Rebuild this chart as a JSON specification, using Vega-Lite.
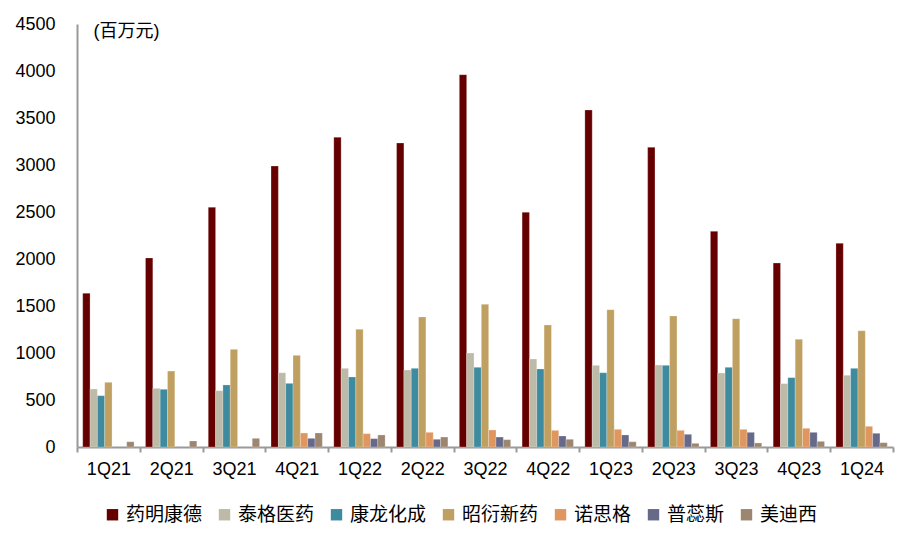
{
  "$schema": "https://vega.github.io/schema/vega-lite/v6.json",
  "width": 816,
  "height": 423,
  "autosize": {"type": "none"},
  "padding": {"left": 77, "top": 24, "right": 22, "bottom": 95},
  "background": "white",
  "data": {
    "values": [
      {"q": "1Q21", "co": "药明康德", "v": 1635}, {"q": "1Q21", "co": "泰格医药", "v": 617}, {"q": "1Q21", "co": "康龙化成", "v": 546}, {"q": "1Q21", "co": "昭衍新药", "v": 688}, {"q": "1Q21", "co": "美迪西", "v": 56},
      {"q": "2Q21", "co": "药明康德", "v": 2011}, {"q": "2Q21", "co": "泰格医药", "v": 624}, {"q": "2Q21", "co": "康龙化成", "v": 614}, {"q": "2Q21", "co": "昭衍新药", "v": 808}, {"q": "2Q21", "co": "美迪西", "v": 64},
      {"q": "3Q21", "co": "药明康德", "v": 2550}, {"q": "3Q21", "co": "泰格医药", "v": 599}, {"q": "3Q21", "co": "康龙化成", "v": 660}, {"q": "3Q21", "co": "昭衍新药", "v": 1039}, {"q": "3Q21", "co": "美迪西", "v": 92},
      {"q": "4Q21", "co": "药明康德", "v": 2989}, {"q": "4Q21", "co": "泰格医药", "v": 790}, {"q": "4Q21", "co": "康龙化成", "v": 677}, {"q": "4Q21", "co": "昭衍新药", "v": 975}, {"q": "4Q21", "co": "诺思格", "v": 149}, {"q": "4Q21", "co": "普蕊斯", "v": 92}, {"q": "4Q21", "co": "美迪西", "v": 149},
      {"q": "1Q22", "co": "药明康德", "v": 3295}, {"q": "1Q22", "co": "泰格医药", "v": 837}, {"q": "1Q22", "co": "康龙化成", "v": 745}, {"q": "1Q22", "co": "昭衍新药", "v": 1252}, {"q": "1Q22", "co": "诺思格", "v": 142}, {"q": "1Q22", "co": "普蕊斯", "v": 89}, {"q": "1Q22", "co": "美迪西", "v": 128},
      {"q": "2Q22", "co": "药明康德", "v": 3234}, {"q": "2Q22", "co": "泰格医药", "v": 819}, {"q": "2Q22", "co": "康龙化成", "v": 837}, {"q": "2Q22", "co": "昭衍新药", "v": 1383}, {"q": "2Q22", "co": "诺思格", "v": 156}, {"q": "2Q22", "co": "普蕊斯", "v": 82}, {"q": "2Q22", "co": "美迪西", "v": 106},
      {"q": "3Q22", "co": "药明康德", "v": 3961}, {"q": "3Q22", "co": "泰格医药", "v": 1000}, {"q": "3Q22", "co": "康龙化成", "v": 848}, {"q": "3Q22", "co": "昭衍新药", "v": 1518}, {"q": "3Q22", "co": "诺思格", "v": 181}, {"q": "3Q22", "co": "普蕊斯", "v": 106}, {"q": "3Q22", "co": "美迪西", "v": 78},
      {"q": "4Q22", "co": "药明康德", "v": 2497}, {"q": "4Q22", "co": "泰格医药", "v": 936}, {"q": "4Q22", "co": "康龙化成", "v": 830}, {"q": "4Q22", "co": "昭衍新药", "v": 1298}, {"q": "4Q22", "co": "诺思格", "v": 177}, {"q": "4Q22", "co": "普蕊斯", "v": 117}, {"q": "4Q22", "co": "美迪西", "v": 82},
      {"q": "1Q23", "co": "药明康德", "v": 3585}, {"q": "1Q23", "co": "泰格医药", "v": 869}, {"q": "1Q23", "co": "康龙化成", "v": 790}, {"q": "1Q23", "co": "昭衍新药", "v": 1461}, {"q": "1Q23", "co": "诺思格", "v": 188}, {"q": "1Q23", "co": "普蕊斯", "v": 128}, {"q": "1Q23", "co": "美迪西", "v": 56},
      {"q": "2Q23", "co": "药明康德", "v": 3188}, {"q": "2Q23", "co": "泰格医药", "v": 872}, {"q": "2Q23", "co": "康龙化成", "v": 869}, {"q": "2Q23", "co": "昭衍新药", "v": 1394}, {"q": "2Q23", "co": "诺思格", "v": 177}, {"q": "2Q23", "co": "普蕊斯", "v": 135}, {"q": "2Q23", "co": "美迪西", "v": 39},
      {"q": "3Q23", "co": "药明康德", "v": 2294}, {"q": "3Q23", "co": "泰格医药", "v": 787}, {"q": "3Q23", "co": "康龙化成", "v": 848}, {"q": "3Q23", "co": "昭衍新药", "v": 1365}, {"q": "3Q23", "co": "诺思格", "v": 188}, {"q": "3Q23", "co": "普蕊斯", "v": 156}, {"q": "3Q23", "co": "美迪西", "v": 43},
      {"q": "4Q23", "co": "药明康德", "v": 1957}, {"q": "4Q23", "co": "泰格医药", "v": 674}, {"q": "4Q23", "co": "康龙化成", "v": 738}, {"q": "4Q23", "co": "昭衍新药", "v": 1146}, {"q": "4Q23", "co": "诺思格", "v": 199}, {"q": "4Q23", "co": "普蕊斯", "v": 156}, {"q": "4Q23", "co": "美迪西", "v": 60},
      {"q": "1Q24", "co": "药明康德", "v": 2167}, {"q": "1Q24", "co": "泰格医药", "v": 763}, {"q": "1Q24", "co": "康龙化成", "v": 837}, {"q": "1Q24", "co": "昭衍新药", "v": 1237}, {"q": "1Q24", "co": "诺思格", "v": 220}, {"q": "1Q24", "co": "普蕊斯", "v": 146}, {"q": "1Q24", "co": "美迪西", "v": 46}
    ]
  },
  "mark": {"type": "bar", "stroke": "#ffffff", "strokeWidth": 0.4, "strokeOpacity": 0.6},
  "encoding": {
    "x": {
      "field": "q",
      "type": "nominal",
      "sort": null,
      "scale": {"paddingInner": 0, "paddingOuter": 0},
      "axis": {
        "title": null,
        "labelAngle": 0,
        "tickBand": "extent",
        "ticks": true,
        "tickSize": 5,
        "tickWidth": 2,
        "tickColor": "#999999",
        "domainColor": "#999999",
        "domainWidth": 2,
        "labelPadding": 8,
        "labelFontSize": 18,
        "labelColor": "#000000",
        "labelFont": "Liberation Sans"
      }
    },
    "xOffset": {
      "field": "co",
      "type": "nominal",
      "sort": ["药明康德", "泰格医药", "康龙化成", "昭衍新药", "诺思格", "普蕊斯", "美迪西"],
      "scale": {"paddingInner": 0, "paddingOuter": 0.78}
    },
    "y": {
      "field": "v",
      "type": "quantitative",
      "scale": {"domain": [0, 4500], "nice": false},
      "axis": {
        "values": [0, 500, 1000, 1500, 2000, 2500, 3000, 3500, 4000, 4500],
        "format": "d",
        "grid": false,
        "ticks": false,
        "domainColor": "#999999",
        "domainWidth": 2,
        "labelPadding": 22,
        "labelFontSize": 18,
        "labelColor": "#000000",
        "labelFont": "Liberation Sans",
        "title": "(百万元)",
        "titleAngle": 0,
        "titleX": 16,
        "titleY": 7,
        "titleAlign": "left",
        "titleBaseline": "middle",
        "titleFontSize": 18,
        "titleFontWeight": "normal",
        "titleColor": "#000000",
        "titleFont": "Liberation Sans, Noto Sans CJK SC"
      }
    },
    "color": {
      "field": "co",
      "type": "nominal",
      "sort": ["药明康德", "泰格医药", "康龙化成", "昭衍新药", "诺思格", "普蕊斯", "美迪西"],
      "scale": {
        "domain": ["药明康德", "泰格医药", "康龙化成", "昭衍新药", "诺思格", "普蕊斯", "美迪西"],
        "range": ["#660000", "#BDBAA8", "#3E8A9E", "#C0A060", "#E0965F", "#666A88", "#9C8670"]
      },
      "legend": {
        "title": null,
        "orient": "none",
        "direction": "horizontal",
        "columns": 7,
        "legendX": 26,
        "legendY": 481,
        "symbolType": "square",
        "symbolSize": 130,
        "symbolStrokeWidth": 0,
        "labelOffset": 4,
        "columnPadding": 12,
        "labelFontSize": 19,
        "labelColor": "#000000",
        "labelFont": "Noto Sans CJK SC"
      }
    }
  },
  "config": {
    "view": {"stroke": null},
    "font": "Liberation Sans"
  }
}
